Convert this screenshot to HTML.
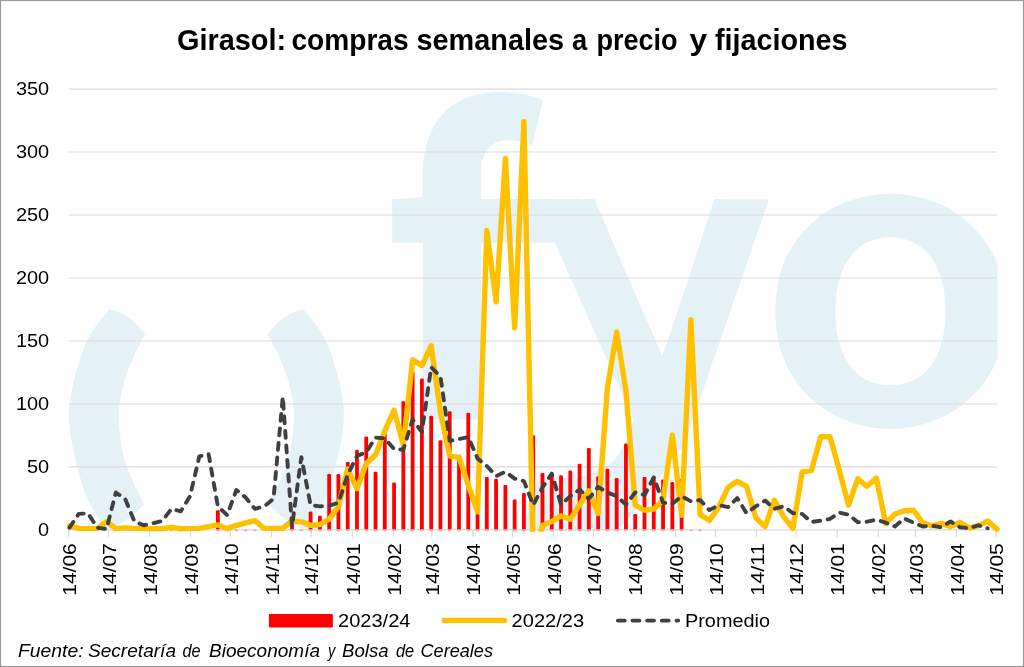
<!DOCTYPE html>
<html lang="es"><head><meta charset="utf-8"><title>Girasol: compras semanales a precio y fijaciones</title>
<style>html,body{margin:0;padding:0;background:#fff}body{width:1024px;height:667px;overflow:hidden}svg{display:block;will-change:transform}text{font-family:"Liberation Sans",sans-serif;fill:#000}text.wm{font-family:"Noto Sans CJK SC","Liberation Sans",sans-serif;font-weight:bold;font-size:400px;fill:#e4f1f6}.ax{font-size:18.9px}.t{font-size:29.2px;font-weight:bold}.src{font-size:18.6px;font-style:italic}</style></head><body>
<svg width="1024" height="667" viewBox="0 0 1024 667">
<rect x="0" y="0" width="1024" height="667" fill="#fff"/>
<defs><clipPath id="plot"><rect x="69" y="89" width="928.6" height="441.4"/></clipPath><clipPath id="fclip"><path d="M380,80 H560 V160 H481.5 V199 H560 V242.5 H481.5 V419.4 H423 V242.5 H380 Z"/></clipPath><clipPath id="lines"><rect x="60" y="80" width="950" height="451.8"/></clipPath><clipPath id="barclip"><rect x="60" y="80" width="950" height="449.5"/></clipPath><clipPath id="yclip"><path d="M500,150 L594.2,150 L594.2,199 L629,280 L662.3,356.1 L688.4,280 L714.5,199 L714.5,150 L800,150 L800,450 L500,450 Z"/></clipPath></defs>
<g clip-path="url(#plot)" fill="#e4f1f6">
<path d="M109.2,309.3 C105.7,314.1 93.7,327.4 88.1,338.2 C82.5,349.0 78.6,363.8 75.6,374.1 C72.6,384.4 71.3,393.2 70.2,400.0 C69.1,406.8 68.8,408.5 69.0,415.0 C69.2,421.5 69.1,428.0 71.2,439.2 C73.3,450.4 78.4,471.6 81.6,482.4 C84.8,493.2 86.6,496.8 90.2,504.0 C93.8,511.2 100.4,521.1 103.2,525.6 C106.0,530.1 106.4,530.1 107.0,531.0 L114,526.6 Q133,518 144.2,504.0 C142.4,500.4 136.6,489.6 133.4,482.4 C130.2,475.2 127.0,468.0 124.8,460.8 C122.6,453.6 121.5,446.4 120.5,439.2 C119.5,432.0 118.8,424.1 118.7,417.6 C118.7,411.1 119.1,406.7 120.2,400.0 C121.3,393.3 123.1,385.0 125.6,377.3 C128.1,369.6 131.7,361.0 135.0,353.8 C138.3,346.6 143.5,337.6 145.2,334.3 Q130,313.5 109.2,309.3 Z"/>
<path transform="translate(412.8,0) scale(-1,1)" d="M109.2,309.3 C105.7,314.1 93.7,327.4 88.1,338.2 C82.5,349.0 78.6,363.8 75.6,374.1 C72.6,384.4 71.3,393.2 70.2,400.0 C69.1,406.8 68.8,408.5 69.0,415.0 C69.2,421.5 69.1,428.0 71.2,439.2 C73.3,450.4 78.4,471.6 81.6,482.4 C84.8,493.2 86.6,496.8 90.2,504.0 C93.8,511.2 100.4,521.1 103.2,525.6 C106.0,530.1 106.4,530.1 107.0,531.0 L114,526.6 Q133,518 144.2,504.0 C142.4,500.4 136.6,489.6 133.4,482.4 C130.2,475.2 127.0,468.0 124.8,460.8 C122.6,453.6 121.5,446.4 120.5,439.2 C119.5,432.0 118.8,424.1 118.7,417.6 C118.7,411.1 119.1,406.7 120.2,400.0 C121.3,393.3 123.1,385.0 125.6,377.3 C128.1,369.6 131.7,361.0 135.0,353.8 C138.3,346.6 143.5,337.6 145.2,334.3 Q130,313.5 109.2,309.3 Z"/>
<rect x="470" y="199" width="110" height="43.5"/><rect x="392" y="199" width="33" height="7"/>
<g class="wm"><g clip-path="url(#fclip)"><text class="wm" transform="translate(381,429.9) scale(1,1.04)">f</text></g><g clip-path="url(#yclip)"><text class="wm" transform="matrix(1.067,0,0.022,1,534.5,423.4)">y</text></g><path d="M714.5,199 L722,199 L697,283 L674,356 L661,378 L650,356 L584,199 L594.2,199 L629,280 L662.3,356.1 L688.4,280 Z"/>
<path d="M634,422 C629,440 622,452 612,462 C600,472 585,477 570,478 L547,478.4 C539,479.5 534.5,484 532,491 C529,501 527,513 526,532 L614,532 C630,518 648,497 664,471 C672,458 681,442 689,422 Z"/><text class="wm" transform="translate(753.1,425.9) scale(1.097,1.0233)" stroke="#fff" stroke-width="5.3">o</text></g>

</g>
<line x1="68.8" x2="996.9" y1="529.90" y2="529.90" stroke="#d9d9d9" stroke-width="1.15"/>
<line x1="68.8" x2="996.9" y1="466.92" y2="466.92" stroke="#d9d9d9" stroke-width="1.15"/>
<line x1="68.8" x2="996.9" y1="403.95" y2="403.95" stroke="#d9d9d9" stroke-width="1.15"/>
<line x1="68.8" x2="996.9" y1="340.97" y2="340.97" stroke="#d9d9d9" stroke-width="1.15"/>
<line x1="68.8" x2="996.9" y1="277.99" y2="277.99" stroke="#d9d9d9" stroke-width="1.15"/>
<line x1="68.8" x2="996.9" y1="215.01" y2="215.01" stroke="#d9d9d9" stroke-width="1.15"/>
<line x1="68.8" x2="996.9" y1="152.04" y2="152.04" stroke="#d9d9d9" stroke-width="1.15"/>
<line x1="68.8" x2="996.9" y1="89.06" y2="89.06" stroke="#d9d9d9" stroke-width="1.15"/>
<line x1="68.80" x2="68.80" y1="529.9" y2="537.1" stroke="#d9d9d9" stroke-width="1.2"/>
<line x1="108.55" x2="108.55" y1="529.9" y2="537.1" stroke="#d9d9d9" stroke-width="1.2"/>
<line x1="149.62" x2="149.62" y1="529.9" y2="537.1" stroke="#d9d9d9" stroke-width="1.2"/>
<line x1="190.69" x2="190.69" y1="529.9" y2="537.1" stroke="#d9d9d9" stroke-width="1.2"/>
<line x1="230.43" x2="230.43" y1="529.9" y2="537.1" stroke="#d9d9d9" stroke-width="1.2"/>
<line x1="271.50" x2="271.50" y1="529.9" y2="537.1" stroke="#d9d9d9" stroke-width="1.2"/>
<line x1="311.25" x2="311.25" y1="529.9" y2="537.1" stroke="#d9d9d9" stroke-width="1.2"/>
<line x1="352.32" x2="352.32" y1="529.9" y2="537.1" stroke="#d9d9d9" stroke-width="1.2"/>
<line x1="393.39" x2="393.39" y1="529.9" y2="537.1" stroke="#d9d9d9" stroke-width="1.2"/>
<line x1="431.81" x2="431.81" y1="529.9" y2="537.1" stroke="#d9d9d9" stroke-width="1.2"/>
<line x1="472.88" x2="472.88" y1="529.9" y2="537.1" stroke="#d9d9d9" stroke-width="1.2"/>
<line x1="512.63" x2="512.63" y1="529.9" y2="537.1" stroke="#d9d9d9" stroke-width="1.2"/>
<line x1="553.70" x2="553.70" y1="529.9" y2="537.1" stroke="#d9d9d9" stroke-width="1.2"/>
<line x1="593.44" x2="593.44" y1="529.9" y2="537.1" stroke="#d9d9d9" stroke-width="1.2"/>
<line x1="634.51" x2="634.51" y1="529.9" y2="537.1" stroke="#d9d9d9" stroke-width="1.2"/>
<line x1="675.58" x2="675.58" y1="529.9" y2="537.1" stroke="#d9d9d9" stroke-width="1.2"/>
<line x1="715.33" x2="715.33" y1="529.9" y2="537.1" stroke="#d9d9d9" stroke-width="1.2"/>
<line x1="756.40" x2="756.40" y1="529.9" y2="537.1" stroke="#d9d9d9" stroke-width="1.2"/>
<line x1="796.15" x2="796.15" y1="529.9" y2="537.1" stroke="#d9d9d9" stroke-width="1.2"/>
<line x1="837.22" x2="837.22" y1="529.9" y2="537.1" stroke="#d9d9d9" stroke-width="1.2"/>
<line x1="878.29" x2="878.29" y1="529.9" y2="537.1" stroke="#d9d9d9" stroke-width="1.2"/>
<line x1="915.38" x2="915.38" y1="529.9" y2="537.1" stroke="#d9d9d9" stroke-width="1.2"/>
<line x1="956.45" x2="956.45" y1="529.9" y2="537.1" stroke="#d9d9d9" stroke-width="1.2"/>
<line x1="996.20" x2="996.20" y1="529.9" y2="537.1" stroke="#d9d9d9" stroke-width="1.2"/>
<g fill="#ff0000" clip-path="url(#barclip)">
<rect x="215.95" y="510.25" width="3.8" height="22.65" rx="1.2"/>
<rect x="290.15" y="525.37" width="3.8" height="7.53" rx="1.2"/>
<rect x="308.70" y="511.51" width="3.8" height="21.39" rx="1.2"/>
<rect x="317.98" y="515.67" width="3.8" height="17.23" rx="1.2"/>
<rect x="327.25" y="473.98" width="3.8" height="58.92" rx="1.2"/>
<rect x="336.53" y="473.98" width="3.8" height="58.92" rx="1.2"/>
<rect x="345.80" y="462.01" width="3.8" height="70.89" rx="1.2"/>
<rect x="355.08" y="449.79" width="3.8" height="83.11" rx="1.2"/>
<rect x="364.35" y="436.44" width="3.8" height="96.46" rx="1.2"/>
<rect x="373.62" y="471.84" width="3.8" height="61.06" rx="1.2"/>
<rect x="382.90" y="433.42" width="3.8" height="99.48" rx="1.2"/>
<rect x="392.18" y="482.54" width="3.8" height="50.36" rx="1.2"/>
<rect x="401.45" y="401.17" width="3.8" height="131.73" rx="1.2"/>
<rect x="410.73" y="371.20" width="3.8" height="161.70" rx="1.2"/>
<rect x="420.00" y="378.50" width="3.8" height="154.40" rx="1.2"/>
<rect x="429.28" y="415.79" width="3.8" height="117.11" rx="1.2"/>
<rect x="438.55" y="440.22" width="3.8" height="92.68" rx="1.2"/>
<rect x="447.83" y="411.25" width="3.8" height="121.65" rx="1.2"/>
<rect x="457.10" y="454.83" width="3.8" height="78.07" rx="1.2"/>
<rect x="466.38" y="412.76" width="3.8" height="120.14" rx="1.2"/>
<rect x="475.65" y="514.03" width="3.8" height="18.87" rx="1.2"/>
<rect x="484.93" y="477.00" width="3.8" height="55.90" rx="1.2"/>
<rect x="494.20" y="478.76" width="3.8" height="54.14" rx="1.2"/>
<rect x="503.48" y="485.06" width="3.8" height="47.84" rx="1.2"/>
<rect x="512.75" y="499.42" width="3.8" height="33.48" rx="1.2"/>
<rect x="522.03" y="493.12" width="3.8" height="39.78" rx="1.2"/>
<rect x="531.30" y="435.18" width="3.8" height="97.72" rx="1.2"/>
<rect x="540.58" y="472.97" width="3.8" height="59.93" rx="1.2"/>
<rect x="549.85" y="474.98" width="3.8" height="57.92" rx="1.2"/>
<rect x="559.13" y="475.24" width="3.8" height="57.66" rx="1.2"/>
<rect x="568.40" y="470.45" width="3.8" height="62.45" rx="1.2"/>
<rect x="577.68" y="463.65" width="3.8" height="69.25" rx="1.2"/>
<rect x="586.95" y="448.03" width="3.8" height="84.87" rx="1.2"/>
<rect x="596.23" y="476.24" width="3.8" height="56.66" rx="1.2"/>
<rect x="605.50" y="468.69" width="3.8" height="64.21" rx="1.2"/>
<rect x="614.78" y="478.01" width="3.8" height="54.89" rx="1.2"/>
<rect x="624.05" y="443.50" width="3.8" height="89.40" rx="1.2"/>
<rect x="633.33" y="514.03" width="3.8" height="18.87" rx="1.2"/>
<rect x="642.60" y="477.00" width="3.8" height="55.90" rx="1.2"/>
<rect x="651.88" y="476.24" width="3.8" height="56.66" rx="1.2"/>
<rect x="661.15" y="479.52" width="3.8" height="53.38" rx="1.2"/>
<rect x="670.43" y="482.04" width="3.8" height="50.86" rx="1.2"/>
<rect x="679.70" y="478.76" width="3.8" height="54.14" rx="1.2"/>
</g>
<rect x="151.43" y="529.30" width="3" height="2" rx="0.9" fill="#f7a3ad"/><rect x="169.98" y="529.30" width="3" height="2" rx="0.9" fill="#f7a3ad"/><rect x="179.25" y="529.30" width="3" height="2" rx="0.9" fill="#f7a3ad"/><rect x="216.35" y="529.30" width="3" height="2" rx="0.9" fill="#f7a3ad"/><rect x="234.90" y="529.30" width="3" height="2" rx="0.9" fill="#f7a3ad"/><rect x="244.18" y="529.30" width="3" height="2" rx="0.9" fill="#f7a3ad"/><rect x="253.45" y="529.30" width="3" height="2" rx="0.9" fill="#f7a3ad"/><rect x="290.55" y="529.30" width="3" height="2" rx="0.9" fill="#f7a3ad"/><rect x="299.82" y="529.30" width="3" height="2" rx="0.9" fill="#f7a3ad"/><rect x="309.10" y="529.30" width="3" height="2" rx="0.9" fill="#f7a3ad"/><rect x="318.38" y="529.30" width="3" height="2" rx="0.9" fill="#f7a3ad"/><rect x="327.65" y="529.30" width="3" height="2" rx="0.9" fill="#f7a3ad"/><rect x="336.93" y="529.30" width="3" height="2" rx="0.9" fill="#f7a3ad"/><rect x="346.20" y="529.30" width="3" height="2" rx="0.9" fill="#f7a3ad"/><rect x="355.48" y="529.30" width="3" height="2" rx="0.9" fill="#f7a3ad"/><rect x="364.75" y="529.30" width="3" height="2" rx="0.9" fill="#f7a3ad"/><rect x="374.02" y="529.30" width="3" height="2" rx="0.9" fill="#f7a3ad"/><rect x="383.30" y="529.30" width="3" height="2" rx="0.9" fill="#f7a3ad"/><rect x="392.57" y="529.30" width="3" height="2" rx="0.9" fill="#f7a3ad"/><rect x="401.85" y="529.30" width="3" height="2" rx="0.9" fill="#f7a3ad"/><rect x="411.12" y="529.30" width="3" height="2" rx="0.9" fill="#f7a3ad"/><rect x="420.40" y="529.30" width="3" height="2" rx="0.9" fill="#f7a3ad"/><rect x="429.68" y="529.30" width="3" height="2" rx="0.9" fill="#f7a3ad"/><rect x="438.95" y="529.30" width="3" height="2" rx="0.9" fill="#f7a3ad"/><rect x="448.23" y="529.30" width="3" height="2" rx="0.9" fill="#f7a3ad"/><rect x="457.50" y="529.30" width="3" height="2" rx="0.9" fill="#f7a3ad"/><rect x="466.77" y="529.30" width="3" height="2" rx="0.9" fill="#f7a3ad"/><rect x="476.05" y="529.30" width="3" height="2" rx="0.9" fill="#f7a3ad"/><rect x="485.32" y="529.30" width="3" height="2" rx="0.9" fill="#f7a3ad"/><rect x="494.60" y="529.30" width="3" height="2" rx="0.9" fill="#f7a3ad"/><rect x="503.88" y="529.30" width="3" height="2" rx="0.9" fill="#f7a3ad"/><rect x="513.15" y="529.30" width="3" height="2" rx="0.9" fill="#f7a3ad"/><rect x="522.43" y="529.30" width="3" height="2" rx="0.9" fill="#f7a3ad"/><rect x="531.70" y="529.30" width="3" height="2" rx="0.9" fill="#f7a3ad"/><rect x="540.98" y="529.30" width="3" height="2" rx="0.9" fill="#f7a3ad"/><rect x="550.25" y="529.30" width="3" height="2" rx="0.9" fill="#f7a3ad"/><rect x="559.53" y="529.30" width="3" height="2" rx="0.9" fill="#f7a3ad"/><rect x="568.80" y="529.30" width="3" height="2" rx="0.9" fill="#f7a3ad"/><rect x="578.08" y="529.30" width="3" height="2" rx="0.9" fill="#f7a3ad"/><rect x="587.35" y="529.30" width="3" height="2" rx="0.9" fill="#f7a3ad"/><rect x="596.63" y="529.30" width="3" height="2" rx="0.9" fill="#f7a3ad"/><rect x="605.90" y="529.30" width="3" height="2" rx="0.9" fill="#f7a3ad"/><rect x="615.18" y="529.30" width="3" height="2" rx="0.9" fill="#f7a3ad"/><rect x="624.45" y="529.30" width="3" height="2" rx="0.9" fill="#f7a3ad"/><rect x="633.73" y="529.30" width="3" height="2" rx="0.9" fill="#f7a3ad"/><rect x="643.00" y="529.30" width="3" height="2" rx="0.9" fill="#f7a3ad"/><rect x="652.28" y="529.30" width="3" height="2" rx="0.9" fill="#f7a3ad"/><rect x="661.55" y="529.30" width="3" height="2" rx="0.9" fill="#f7a3ad"/><rect x="670.83" y="529.30" width="3" height="2" rx="0.9" fill="#f7a3ad"/><rect x="680.10" y="529.30" width="3" height="2" rx="0.9" fill="#f7a3ad"/><rect x="689.38" y="529.30" width="3" height="2" rx="0.9" fill="#f7a3ad"/><rect x="698.65" y="529.30" width="3" height="2" rx="0.9" fill="#f7a3ad"/>
<g clip-path="url(#lines)"><polyline fill="none" stroke="#ffc000" stroke-width="5.4" stroke-linejoin="round" stroke-linecap="round" points="69.45,525.87 78.73,528.39 88.00,528.64 97.28,528.39 106.55,521.59 115.83,528.64 125.10,527.88 134.38,528.39 143.65,528.64 152.93,528.64 162.20,528.64 171.48,527.38 180.75,528.64 190.03,528.64 199.30,528.39 208.57,526.63 217.85,524.86 227.12,528.64 236.40,525.37 245.68,522.97 254.95,520.58 264.23,528.39 273.50,528.39 282.78,528.39 292.05,520.96 301.32,521.84 310.60,525.37 319.88,524.48 329.15,519.19 338.43,506.60 347.70,469.06 356.98,488.59 366.25,463.52 375.52,454.96 384.80,430.90 394.07,410.12 403.35,444.75 412.62,359.86 421.90,365.53 431.18,345.75 440.45,412.01 449.73,456.09 459.00,457.35 468.27,485.06 477.55,511.64 486.82,230.51 496.10,301.92 505.38,158.33 514.65,327.87 523.93,121.56 533.20,557.61 542.48,525.37 551.75,521.46 561.03,515.92 570.30,519.32 579.58,504.71 588.85,490.85 598.13,513.53 607.40,388.08 616.68,332.15 625.95,390.59 635.23,505.21 644.50,510.25 653.78,508.99 663.05,500.17 672.33,435.18 681.60,515.29 690.88,319.81 700.15,514.79 709.43,520.33 718.70,507.23 727.98,487.58 737.25,481.28 746.53,486.32 755.80,517.81 765.08,526.63 774.35,500.17 783.63,516.55 792.90,528.39 802.18,471.96 811.45,470.45 820.73,436.82 830.00,436.82 839.28,469.95 848.55,505.21 857.83,478.76 867.10,486.32 876.38,478.01 885.65,523.35 894.93,514.03 904.20,510.75 913.48,510.25 922.75,522.85 932.03,525.87 941.30,523.35 950.58,526.63 959.85,522.34 969.13,527.88 978.40,525.87 987.68,521.08 996.95,529.14"/>
<polyline fill="none" stroke="#404040" stroke-width="3.9" stroke-linejoin="round" stroke-linecap="round" stroke-dasharray="7.0 7.6" points="69.45,527.76 78.73,513.90 88.00,513.40 97.28,527.76 106.55,529.02 115.83,492.49 125.10,498.79 134.38,521.46 143.65,525.24 152.93,523.22 162.20,520.96 171.48,508.87 180.75,511.38 190.03,496.27 199.30,456.47 208.57,453.95 217.85,506.35 227.12,515.16 236.40,489.97 245.68,497.53 254.95,508.87 264.23,506.35 273.50,498.79 282.78,396.77 292.05,526.50 301.32,457.22 310.60,505.09 319.88,506.35 329.15,505.72 338.43,502.69 347.70,474.86 356.98,455.96 366.25,452.19 375.52,437.58 384.80,438.33 394.07,449.16 403.35,449.67 412.62,419.44 421.90,432.03 431.18,367.17 440.45,376.61 449.73,440.85 459.00,439.09 468.27,437.07 477.55,458.48 486.82,466.04 496.10,476.12 505.38,471.84 514.65,478.64 523.93,481.16 533.20,505.09 542.48,487.45 551.75,473.60 561.03,504.58 570.30,496.27 579.58,489.47 588.85,498.79 598.13,486.95 607.40,492.49 616.68,496.27 625.95,504.58 635.23,492.49 644.50,495.01 653.78,477.38 663.05,502.57 672.33,503.83 681.60,496.27 690.88,501.31 700.15,500.05 709.43,510.13 718.70,505.09 727.98,507.10 737.25,498.03 746.53,513.15 755.80,506.35 765.08,500.55 774.35,508.87 783.63,506.35 792.90,513.15 802.18,513.90 811.45,521.96 820.73,520.71 830.00,518.94 839.28,512.64 848.55,514.66 857.83,522.22 867.10,521.71 876.38,519.70 885.65,522.72 894.93,526.50 904.20,518.44 913.48,522.72 922.75,526.50 932.03,525.74 941.30,527.25 950.58,521.46 959.85,527.25 969.13,528.26 978.40,525.24 987.68,528.26"/></g>
<text class="ax" x="38.10" y="536.30" textLength="11.1" lengthAdjust="spacingAndGlyphs">0</text>
<text class="ax" x="27.00" y="473.32" textLength="22.2" lengthAdjust="spacingAndGlyphs">50</text>
<text class="ax" x="15.90" y="410.35" textLength="33.3" lengthAdjust="spacingAndGlyphs">100</text>
<text class="ax" x="15.90" y="347.37" textLength="33.3" lengthAdjust="spacingAndGlyphs">150</text>
<text class="ax" x="15.90" y="284.39" textLength="33.3" lengthAdjust="spacingAndGlyphs">200</text>
<text class="ax" x="15.90" y="221.41" textLength="33.3" lengthAdjust="spacingAndGlyphs">250</text>
<text class="ax" x="15.90" y="158.44" textLength="33.3" lengthAdjust="spacingAndGlyphs">300</text>
<text class="ax" x="15.90" y="95.46" textLength="33.3" lengthAdjust="spacingAndGlyphs">350</text>
<text class="ax" transform="translate(76.00,595.8) rotate(-90)" textLength="52.6" lengthAdjust="spacingAndGlyphs">14/06</text>
<text class="ax" transform="translate(115.75,595.8) rotate(-90)" textLength="52.6" lengthAdjust="spacingAndGlyphs">14/07</text>
<text class="ax" transform="translate(156.82,595.8) rotate(-90)" textLength="52.6" lengthAdjust="spacingAndGlyphs">14/08</text>
<text class="ax" transform="translate(197.89,595.8) rotate(-90)" textLength="52.6" lengthAdjust="spacingAndGlyphs">14/09</text>
<text class="ax" transform="translate(237.63,595.8) rotate(-90)" textLength="52.6" lengthAdjust="spacingAndGlyphs">14/10</text>
<text class="ax" transform="translate(278.70,595.8) rotate(-90)" textLength="52.6" lengthAdjust="spacingAndGlyphs">14/11</text>
<text class="ax" transform="translate(318.45,595.8) rotate(-90)" textLength="52.6" lengthAdjust="spacingAndGlyphs">14/12</text>
<text class="ax" transform="translate(359.52,595.8) rotate(-90)" textLength="52.6" lengthAdjust="spacingAndGlyphs">14/01</text>
<text class="ax" transform="translate(400.59,595.8) rotate(-90)" textLength="52.6" lengthAdjust="spacingAndGlyphs">14/02</text>
<text class="ax" transform="translate(439.01,595.8) rotate(-90)" textLength="52.6" lengthAdjust="spacingAndGlyphs">14/03</text>
<text class="ax" transform="translate(480.08,595.8) rotate(-90)" textLength="52.6" lengthAdjust="spacingAndGlyphs">14/04</text>
<text class="ax" transform="translate(519.83,595.8) rotate(-90)" textLength="52.6" lengthAdjust="spacingAndGlyphs">14/05</text>
<text class="ax" transform="translate(560.90,595.8) rotate(-90)" textLength="52.6" lengthAdjust="spacingAndGlyphs">14/06</text>
<text class="ax" transform="translate(600.64,595.8) rotate(-90)" textLength="52.6" lengthAdjust="spacingAndGlyphs">14/07</text>
<text class="ax" transform="translate(641.71,595.8) rotate(-90)" textLength="52.6" lengthAdjust="spacingAndGlyphs">14/08</text>
<text class="ax" transform="translate(682.78,595.8) rotate(-90)" textLength="52.6" lengthAdjust="spacingAndGlyphs">14/09</text>
<text class="ax" transform="translate(722.53,595.8) rotate(-90)" textLength="52.6" lengthAdjust="spacingAndGlyphs">14/10</text>
<text class="ax" transform="translate(763.60,595.8) rotate(-90)" textLength="52.6" lengthAdjust="spacingAndGlyphs">14/11</text>
<text class="ax" transform="translate(803.35,595.8) rotate(-90)" textLength="52.6" lengthAdjust="spacingAndGlyphs">14/12</text>
<text class="ax" transform="translate(844.42,595.8) rotate(-90)" textLength="52.6" lengthAdjust="spacingAndGlyphs">14/01</text>
<text class="ax" transform="translate(885.49,595.8) rotate(-90)" textLength="52.6" lengthAdjust="spacingAndGlyphs">14/02</text>
<text class="ax" transform="translate(922.58,595.8) rotate(-90)" textLength="52.6" lengthAdjust="spacingAndGlyphs">14/03</text>
<text class="ax" transform="translate(963.65,595.8) rotate(-90)" textLength="52.6" lengthAdjust="spacingAndGlyphs">14/04</text>
<text class="ax" transform="translate(1003.40,595.8) rotate(-90)" textLength="52.6" lengthAdjust="spacingAndGlyphs">14/05</text>
<text class="t" y="49.5"><tspan x="177.0" textLength="109.1" lengthAdjust="spacingAndGlyphs">Girasol:</tspan> <tspan x="291.5" textLength="117.1" lengthAdjust="spacingAndGlyphs">compras</tspan> <tspan x="416.5" textLength="147.6" lengthAdjust="spacingAndGlyphs">semanales</tspan> <tspan x="571.9" textLength="15.2" lengthAdjust="spacingAndGlyphs">a</tspan> <tspan x="596.5" textLength="81.1" lengthAdjust="spacingAndGlyphs">precio</tspan> <tspan x="689.5" textLength="17.6" lengthAdjust="spacingAndGlyphs">y</tspan> <tspan x="715.0" textLength="132.5" lengthAdjust="spacingAndGlyphs">fijaciones</tspan></text>
<rect x="268.9" y="614" width="64" height="13.4" rx="1" fill="#ff0000"/>
<text class="ax" x="338" y="626.9" textLength="72.5" lengthAdjust="spacingAndGlyphs">2023/24</text>
<line x1="444.2" x2="504.5" y1="620.4" y2="620.4" stroke="#ffc000" stroke-width="5.3" stroke-linecap="round"/>
<text class="ax" x="511.6" y="626.9" textLength="72.5" lengthAdjust="spacingAndGlyphs">2022/23</text>
<line x1="617.9" x2="678.2" y1="620.6" y2="620.6" stroke="#404040" stroke-width="3.9" stroke-linecap="round" stroke-dasharray="6.8 7.85"/>
<text class="ax" x="685" y="626.9" textLength="85" lengthAdjust="spacingAndGlyphs">Promedio</text>
<text class="src" y="657"><tspan x="18.0" textLength="65.6" lengthAdjust="spacingAndGlyphs">Fuente:</tspan> <tspan x="88.0" textLength="88.0" lengthAdjust="spacingAndGlyphs">Secretaría</tspan> <tspan x="182.5" textLength="18.1" lengthAdjust="spacingAndGlyphs">de</tspan> <tspan x="209.0" textLength="111.0" lengthAdjust="spacingAndGlyphs">Bioeconomía</tspan> <tspan x="328.0" textLength="7.3" lengthAdjust="spacingAndGlyphs">y</tspan> <tspan x="342.0" textLength="46.6" lengthAdjust="spacingAndGlyphs">Bolsa</tspan> <tspan x="396.0" textLength="18.2" lengthAdjust="spacingAndGlyphs">de</tspan> <tspan x="420.5" textLength="72.5" lengthAdjust="spacingAndGlyphs">Cereales</tspan></text>
<rect x="0.5" y="0.5" width="1023" height="666" fill="none" stroke="#9a9a9a" stroke-width="1.2"/>
</svg></body></html>
